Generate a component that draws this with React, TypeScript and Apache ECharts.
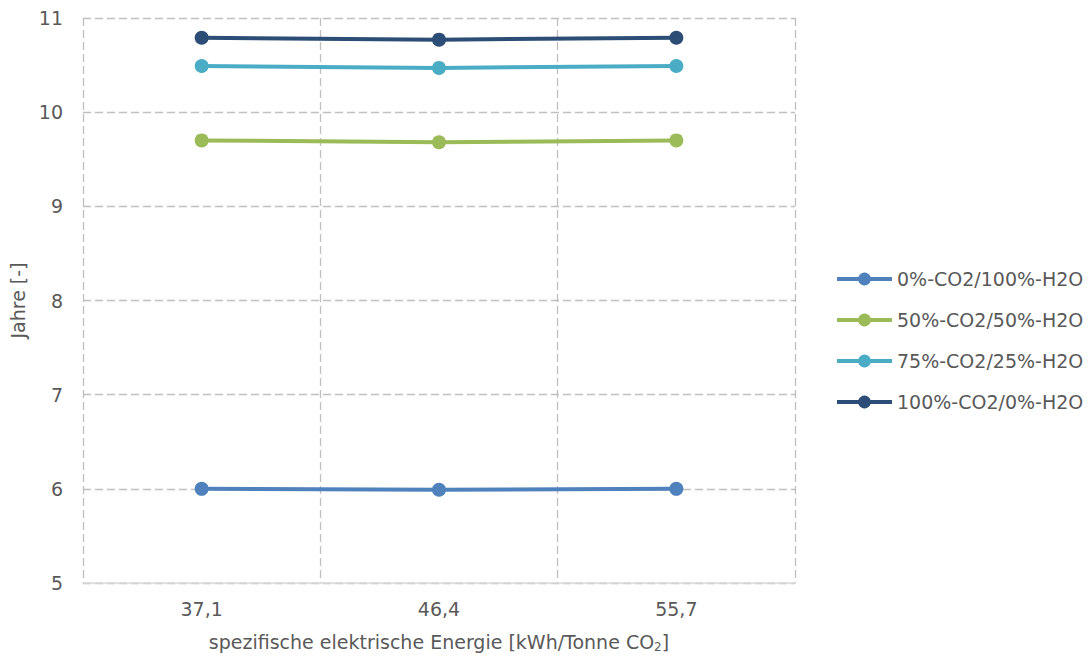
import React, { useEffect, useRef } from "react";
import * as echarts from "echarts";

const categories = ["37,1", "46,4", "55,7"];
const seriesNames = ["0%-CO2/100%-H2O", "50%-CO2/50%-H2O", "75%-CO2/25%-H2O", "100%-CO2/0%-H2O"];
const s0 = [6.0, 5.99, 6.0];
const s50 = [9.7, 9.68, 9.7];
const s75 = [10.49, 10.47, 10.49];
const s100 = [10.79, 10.77, 10.79];
const colors = ["#4f81bd", "#9bbb59", "#4bacc6", "#2c4d75"];
const yTicks = { min: 5, max: 11, interval: 1 };

const FONT = "DejaVu Sans";
const TXT = "#595959";

export default function App() {
  const ref = useRef<HTMLDivElement>(null);
  useEffect(() => {
    if (!ref.current) return;
    const chart = echarts.init(ref.current, undefined, { renderer: "svg" });
    const data = [s0, s50, s75, s100];
    chart.setOption({
      animation: false,
      textStyle: { fontFamily: FONT, color: TXT },
      grid: { left: 83, right: 296, top: 18, bottom: 75, containLabel: false },
      legend: {
        orient: "vertical",
        left: 830,
        top: 263,
        itemWidth: 55,
        itemHeight: 16,
        itemGap: 19,
        lineStyle: { width: 4 },
        textStyle: { fontFamily: FONT, fontSize: 19, color: TXT, lineHeight: 22 },
        data: seriesNames,
      },
      xAxis: {
        type: "category",
        data: categories,
        boundaryGap: true,
        axisTick: { show: false },
        axisLine: { show: true, lineStyle: { color: "#d9d9d9", width: 1.5 } },
        splitLine: { show: true, lineStyle: { color: "#bfbfbf", type: [8, 4], width: 1.3 } },
        axisLabel: { fontFamily: FONT, fontSize: 19, color: TXT, margin: 16 },
        name: "{a|spezifische elektrische Energie [kWh/Tonne CO}{s|2}{a|]}",
        nameLocation: "middle",
        nameGap: 48,
        nameTextStyle: {
          rich: {
            a: { fontFamily: FONT, fontSize: 19, color: TXT },
            s: { fontFamily: FONT, fontSize: 12, color: TXT, verticalAlign: "bottom", padding: [10, 0, 0, 0] },
          },
        },
      },
      yAxis: {
        type: "value",
        min: yTicks.min,
        max: yTicks.max,
        interval: yTicks.interval,
        axisLine: { show: false },
        axisTick: { show: false },
        splitLine: { show: true, lineStyle: { color: "#bfbfbf", type: [8, 4], width: 1.3 } },
        axisLabel: { fontFamily: FONT, fontSize: 19, color: TXT, margin: 20 },
        name: "Jahre [-]",
        nameLocation: "middle",
        nameGap: 55,
        nameTextStyle: { fontFamily: FONT, fontSize: 19, color: TXT },
      },
      series: seriesNames.map((n, i) => ({
        name: n,
        type: "line",
        data: data[i],
        symbol: "circle",
        symbolSize: 14,
        lineStyle: { width: 4, color: colors[i] },
        itemStyle: { color: colors[i] },
        z: 2 + i,
      })),
    });
    return () => chart.dispose();
  }, []);
  return <div ref={ref} style={{ width: 1091, height: 658, position: "absolute", left: 0, top: 0 }} />;
}
